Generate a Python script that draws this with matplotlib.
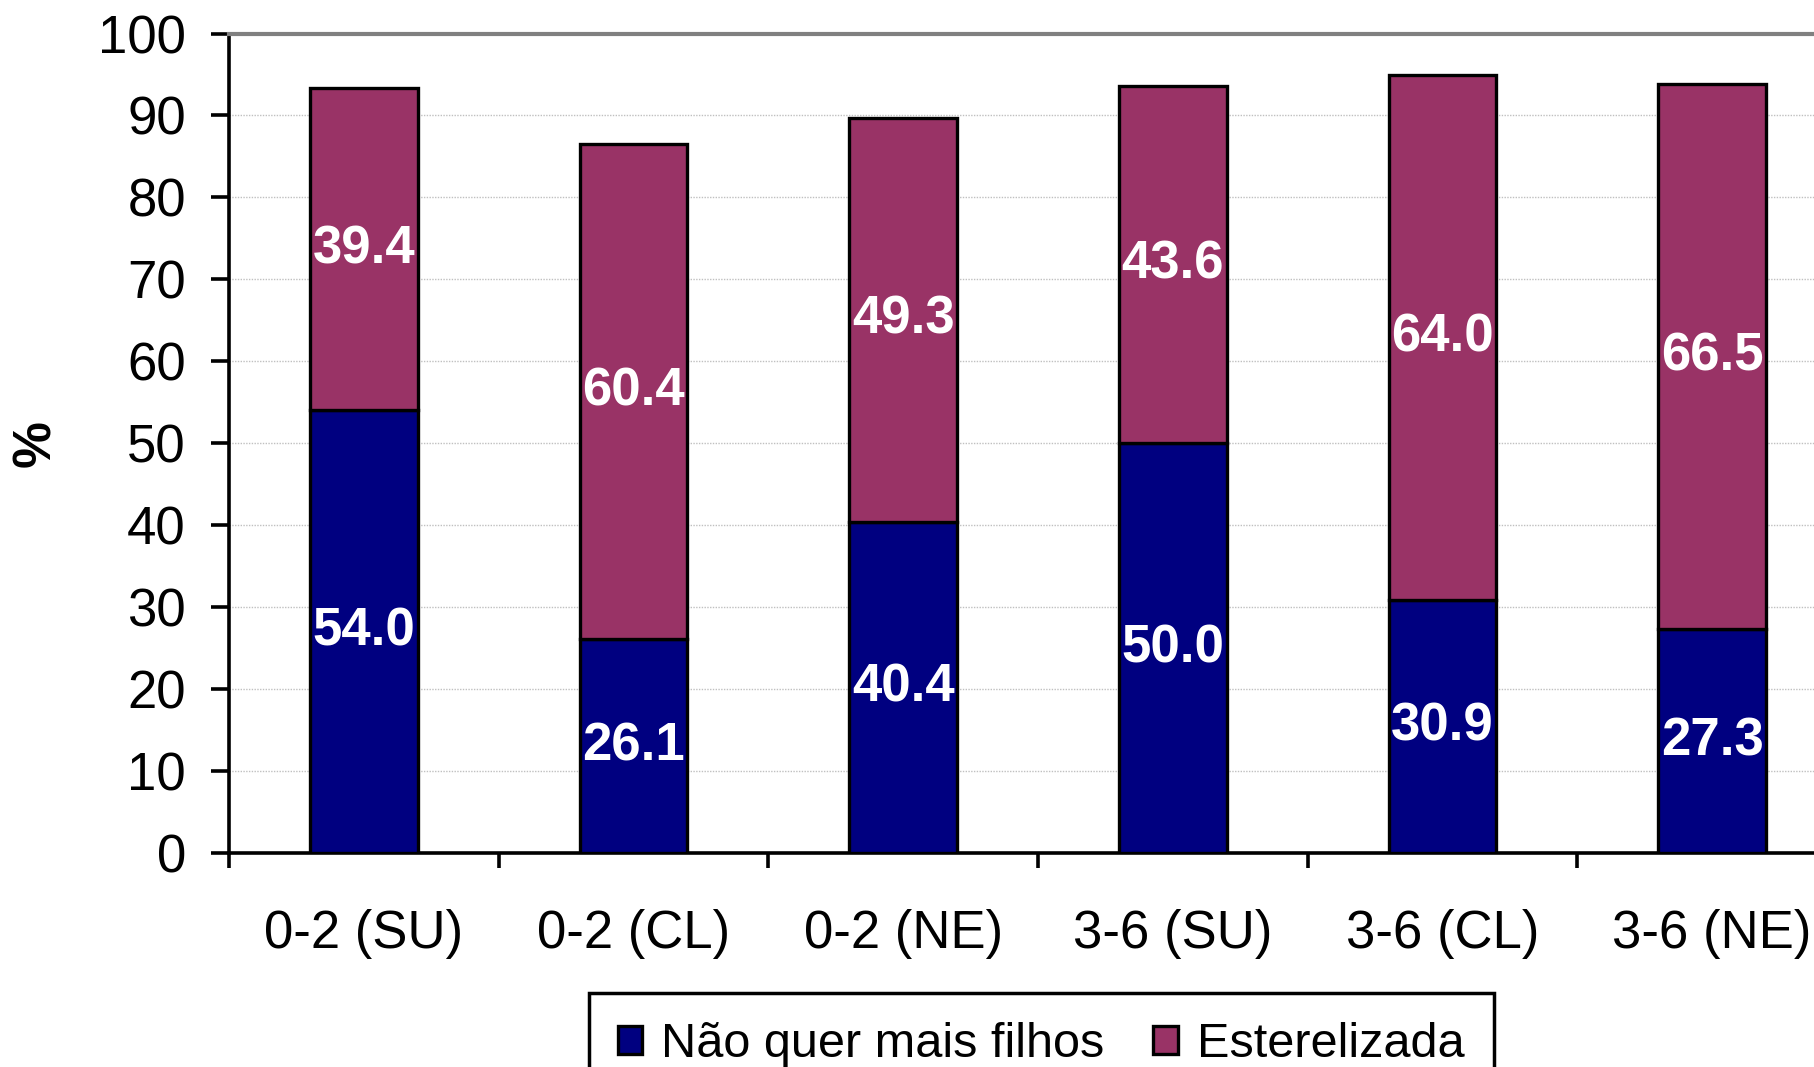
import matplotlib
matplotlib.use('Agg')
import matplotlib.pyplot as plt
import numpy as np

categories = ['0-2 (SU)', '0-2 (CL)', '0-2 (NE)', '3-6 (SU)', '3-6 (CL)', '3-6 (NE)']
nao_quer = [54.0, 26.1, 40.4, 50.0, 30.9, 27.3]
esterelizada = [39.4, 60.4, 49.3, 43.6, 64.0, 66.5]

plt.rcParams['font.family'] = ['Liberation Sans', 'DejaVu Sans']

fig = plt.figure(figsize=(18.14, 10.67), dpi=100)
ax = fig.add_axes([0.1262, 0.2006, 0.892, 0.768])

x = np.arange(len(categories))
width = 0.40
b1 = ax.bar(x, nao_quer, width, color='#000080', edgecolor='black',
            linewidth=2.4, label='Não quer mais filhos', zorder=3)
b2 = ax.bar(x, esterelizada, width, bottom=nao_quer, color='#993366',
            edgecolor='black', linewidth=2.4, label='Esterelizada', zorder=3)

for i in range(len(categories)):
    ax.text(x[i], nao_quer[i] / 2, f'{nao_quer[i]:.1f}', ha='center',
            va='center', color='white', fontsize=38, fontweight='bold', zorder=4)
    ax.text(x[i], nao_quer[i] + esterelizada[i] / 2, f'{esterelizada[i]:.1f}',
            ha='center', va='center', color='white', fontsize=38,
            fontweight='bold', zorder=4)

ax.set_xlim(-0.5, 5.5)
ax.set_ylim(0, 100)
ax.set_yticks(np.arange(0, 101, 10))
ax.tick_params(axis='y', labelsize=38, length=13, width=2.6, pad=18, direction='out')

# ticks at category boundaries, labels at centres
ax.set_xticks(np.arange(-0.5, 6, 1))
ax.set_xticklabels([])
ax.set_xticks(x, minor=True)
ax.set_xticklabels(categories, minor=True)
ax.tick_params(axis='x', which='major', length=11, width=2.6, direction='out')
ax.tick_params(axis='x', which='minor', length=0, labelsize=38, pad=40)

ax.yaxis.grid(True, linestyle=(0, (1, 1)), color='#c0c0c0', linewidth=1.0, zorder=0)
ax.set_axisbelow(True)

for s in ['left', 'bottom']:
    ax.spines[s].set_linewidth(2.6)
    ax.spines[s].set_color('black')
ax.spines['right'].set_visible(False)
ax.spines['top'].set_color('#808080')
ax.spines['top'].set_linewidth(3)

ax.set_ylabel('%', fontsize=38, fontweight='bold')
ax.yaxis.set_label_coords(-0.104, 0.5)

leg = fig.legend(handles=[b1, b2], loc='upper center', bbox_to_anchor=(0.574, 0.0694),
                 ncol=2, fontsize=35, frameon=True, fancybox=False, framealpha=1,
                 handlelength=0.5, handleheight=0.5, handletextpad=0.4,
                 columnspacing=1.0, borderpad=0.6, borderaxespad=0)
leg.get_frame().set_edgecolor('black')
leg.get_frame().set_linewidth(2.5)

fig.savefig('out.png', dpi=100)
